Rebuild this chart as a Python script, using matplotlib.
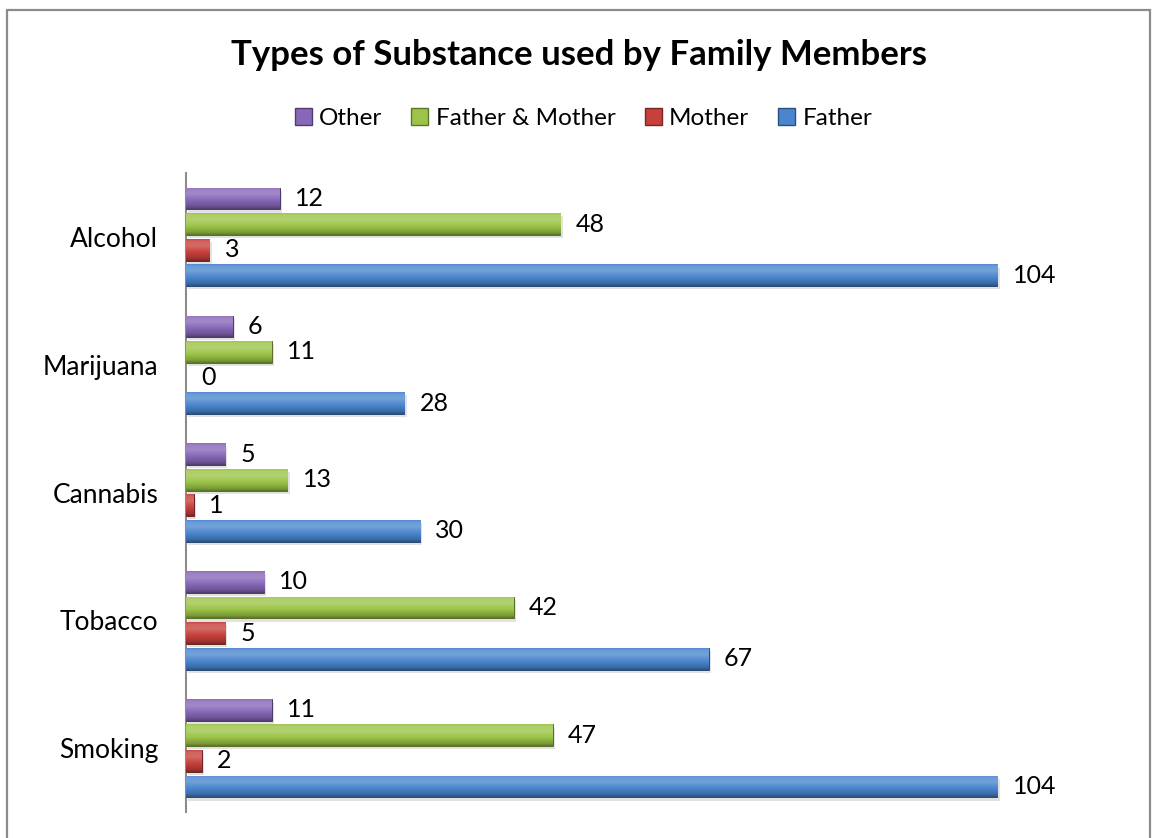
import numpy as np
import matplotlib
matplotlib.use('Agg')
import matplotlib.pyplot as plt
from matplotlib.patches import Patch, Rectangle
from matplotlib.colors import to_rgb

plt.rcParams['font.family'] = ['Lato', 'DejaVu Sans']

categories = ['Smoking', 'Tobacco', 'Cannabis', 'Marijuana', 'Alcohol']
father = [104, 67, 30, 28, 104]
mother = [2, 5, 1, 0, 3]
father_mother = [47, 42, 13, 11, 48]
other = [11, 10, 5, 6, 12]

series = [
    ('Father', father, '#4A86CF'),
    ('Mother', mother, '#C8403C'),
    ('Father & Mother', father_mother, '#9CC448'),
    ('Other', other, '#8767B8'),
]


def shade(color, f):
    r, g, b = to_rgb(color)
    if f >= 0:
        return (r + (1 - r) * f, g + (1 - g) * f, b + (1 - b) * f)
    return (r * (1 + f), g * (1 + f), b * (1 + f))


def gradient_fill(ax, patch, color):
    # bevel-like vertical shading, clipped to the bar shape
    x0, y0 = patch.get_x(), patch.get_y()
    w, h = patch.get_width(), patch.get_height()
    if w <= 0:
        return
    t = np.linspace(0, 1, 64)
    f = np.interp(t, [0, 0.12, 0.4, 0.7, 0.9, 1.0], [-0.4, -0.2, 0.0, 0.22, 0.18, 0.05])
    img = np.array([shade(color, v) for v in f])[:, None, :]
    im = ax.imshow(img, extent=[x0, x0 + w, y0, y0 + h], origin='lower',
                   aspect='auto', interpolation='bilinear', zorder=3)
    im.set_clip_path(patch)


fig = plt.figure(figsize=(11.53, 8.38), dpi=100)
fig.patch.set_facecolor('white')
ax = fig.add_axes([0.1613, 0.031, 0.812, 0.7625])

y = np.arange(len(categories))
offsets = [-0.3, -0.1, 0.1, 0.3]
bar_h = 0.17

for (name, vals, col), off in zip(series, offsets):
    # soft shadow
    ax.barh(y + off - 0.025, vals, height=bar_h, left=0.3, color='#d0d0d0',
            alpha=0.6, edgecolor='none', zorder=2)
    bars = ax.barh(y + off, vals, height=bar_h, color=col,
                   edgecolor=shade(col, -0.45), linewidth=0.7, zorder=3, label=name)
    for b in bars:
        if b.get_width() == 0:
            b.set_linewidth(0)
        gradient_fill(ax, b, col)
    for yi, v in zip(y, vals):
        ax.annotate(f'{v}', xy=(v, yi + off), xytext=(11, 0), textcoords='offset points',
                    ha='left', va='center', fontsize=18, color='black', zorder=5)

ax.set_xlim(0, 120)
ax.set_ylim(-0.5, 4.5)
ax.set_xticks([])
ax.set_yticks(y)
ax.set_yticklabels(categories, fontsize=19)
ax.tick_params(axis='y', length=0, pad=20)
for s in ['top', 'right', 'bottom']:
    ax.spines[s].set_visible(False)
ax.spines['left'].set_color('#8c8c8c')
ax.spines['left'].set_linewidth(1.5)

fig.text(0.502, 0.934, 'Types of Substance used by Family Members', ha='center', va='center',
         fontsize=25, fontweight='bold')

handles = [Patch(facecolor=c, edgecolor=shade(c, -0.4), label=n) for n, _, c in series[::-1]]
fig.legend(handles=handles, loc='center', bbox_to_anchor=(0.506, 0.859), ncol=4,
           frameon=False, fontsize=17.5, handlelength=0.7, handleheight=0.7,
           handletextpad=0.3, columnspacing=1.2)

fig.add_artist(Rectangle((7 / 1153, -0.05), (1150 - 7) / 1153, 1 - 10 / 838 + 0.05,
                         transform=fig.transFigure, fill=False, edgecolor='#8c8c8c',
                         linewidth=1.6))

fig.savefig('out.png', dpi=100, facecolor='white')
